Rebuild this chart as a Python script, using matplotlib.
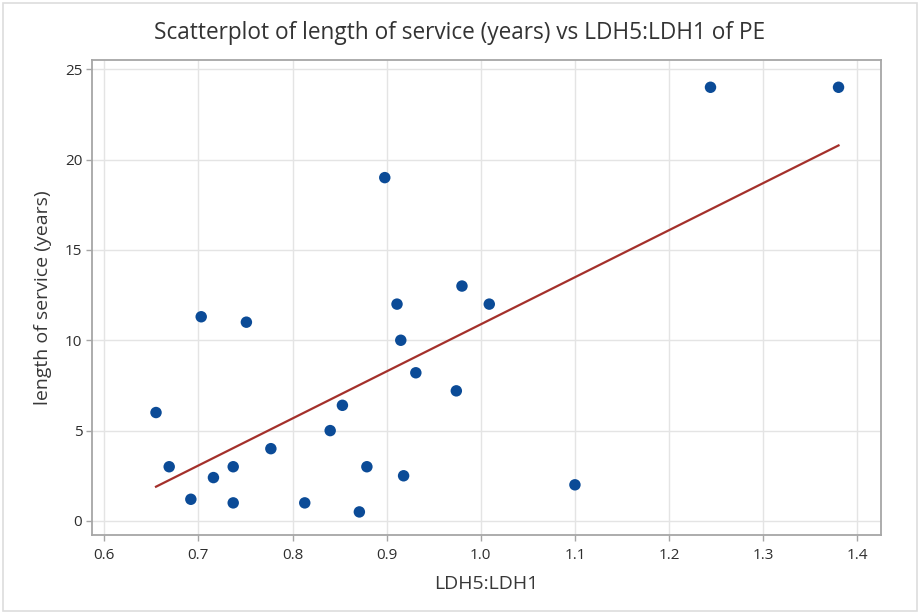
import numpy as np
import matplotlib
matplotlib.use("Agg")
from matplotlib import pyplot as plt
from matplotlib.patches import Rectangle

# LDH5:LDH1 ratio and length of service
ldh_ratio = [0.655, 0.669, 0.692, 0.703, 0.716, 0.737, 0.737, 0.751, 0.777,
             0.813, 0.840, 0.853, 0.871, 0.879, 0.898, 0.911, 0.915, 0.918,
             0.931, 0.974, 0.980, 1.009, 1.100, 1.244, 1.380]
service_years = [6.0, 3.0, 1.2, 11.3, 2.4, 3.0, 1.0, 11.0, 4.0,
                 1.0, 5.0, 6.4, 0.5, 3.0, 19.0, 12.0, 10.0, 2.5,
                 8.2, 7.2, 13.0, 12.0, 2.0, 24.0, 24.0]
x_ticks = [0.6, 0.7, 0.8, 0.9, 1.0, 1.1, 1.2, 1.3, 1.4]
y_ticks = [0, 5, 10, 15, 20, 25]

plt.rcParams['font.family'] = ['Open Sans', 'DejaVu Sans']

x = np.array(ldh_ratio)
y = np.array(service_years)

fig = plt.figure(figsize=(9.2, 6.14), dpi=100)
ax = fig.add_axes([0.100, 0.128, 0.858, 0.774])

# fitted regression line across the data range
slope, intercept = np.polyfit(x, y, 1)
x_fit = np.array([x.min(), x.max()])
ax.plot(x_fit, intercept + slope * x_fit, color='#a4302b', linewidth=1.6, zorder=2)

ax.scatter(x, y, s=68, color='#0b4b97', edgecolors='none', zorder=3)

ax.set_xlim(0.587, 1.4255)
ax.set_ylim(-0.8, 25.5)
ax.set_xticks(x_ticks)
ax.set_xticklabels([f'{v:.1f}' for v in x_ticks])
ax.set_yticks(y_ticks)

ax.grid(True, color='#e4e4e4', linewidth=1.0)
ax.set_axisbelow(True)
for sp in ax.spines.values():
    sp.set_color('#a6a6a6')
    sp.set_linewidth(1.3)
ax.tick_params(axis='both', colors='#a6a6a6', labelcolor='#2e2e2e',
               labelsize=11, length=4, width=1)
ax.tick_params(axis='x', pad=5)
ax.tick_params(axis='y', pad=3)

ax.set_xlabel('LDH5:LDH1', fontsize=14, color='#383838', labelpad=9)
ax.set_ylabel('length of service (years)', fontsize=14, color='#383838', labelpad=9)
fig.text(0.5, 0.946, 'Scatterplot of length of service (years) vs LDH5:LDH1 of PE',
         ha='center', va='center', fontsize=16.3, color='#333333')

# thin light frame around the whole picture
fig.patches.append(Rectangle((0.003, 0.005), 0.994, 0.99, transform=fig.transFigure,
                             fill=False, edgecolor='#dddddd', linewidth=1.2))

fig.savefig('out.png', dpi=100)
